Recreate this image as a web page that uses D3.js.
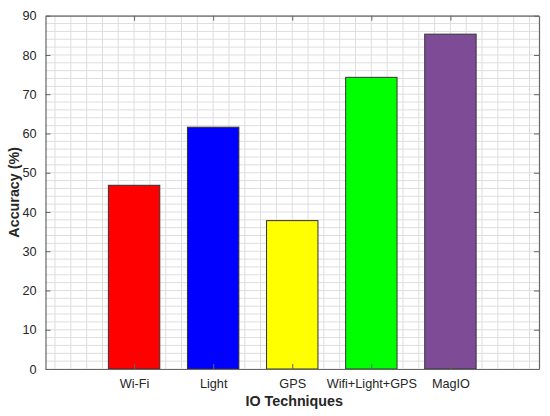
<!DOCTYPE html>
<html><head><meta charset="utf-8">
<script src="https://cdn.jsdelivr.net/npm/d3@7"></script>
<style>body{margin:0;background:#fff}text{font-family:"Liberation Sans",Arial,sans-serif}</style>
</head><body>
<svg id="c" width="550" height="416"></svg>
<script>
const categories = ["Wi-Fi","Light","GPS","Wifi+Light+GPS","MagIO"];
const accuracy = [46.8, 61.6, 37.8, 74.3, 85.3];
const barColors = ["#ff0000","#0000ff","#ffff00","#00ff00","#7e4c96"];
const yTicks = [0,10,20,30,40,50,60,70,80,90];

const L=45.5, R=539, T=15.7, B=369;
const svg = d3.select("#c");
const x = d3.scaleLinear().domain([-0.12, 6.12]).range([L, R]);
const y = d3.scaleLinear().domain([0, 90]).range([B, T]);
const g = svg.append("g");

// minor grid
const gx = d3.range(0, 31).map(i => i*0.2);
g.selectAll(".vg").data(gx).join("line")
  .attr("x1", d=>x(d)).attr("x2", d=>x(d)).attr("y1", T).attr("y2", B)
  .attr("stroke", "#dedede").attr("stroke-width", 1);
const gy = d3.range(0, 46).map(i => i*2);
g.selectAll(".hg").data(gy).join("line")
  .attr("y1", d=>y(d)).attr("y2", d=>y(d)).attr("x1", L).attr("x2", R)
  .attr("stroke", "#dedede").attr("stroke-width", 1);

// bars
const bw = 0.65;
g.selectAll(".bar").data(accuracy).join("rect")
  .attr("x", (d,i)=>x(i+1-bw/2)).attr("width", (d,i)=>x(i+1+bw/2)-x(i+1-bw/2))
  .attr("y", d=>y(d)).attr("height", d=>B-y(d))
  .attr("fill", (d,i)=>barColors[i]).attr("stroke", "#333").attr("stroke-width", 1);

// axes
const axCol = "#666";
const yAxis = d3.axisLeft(y).tickValues(yTicks).tickSizeInner(-5).tickSizeOuter(0).tickPadding(9);
const ya = svg.append("g").attr("transform", `translate(${L},0)`).call(yAxis);
const yr = svg.append("g").attr("transform", `translate(${R},0)`).call(d3.axisRight(y).tickValues(yTicks).tickSizeInner(-5).tickSizeOuter(0).tickFormat(""));
const xAxis = d3.axisBottom(x).tickValues([1,2,3,4,5]).tickFormat((d)=>categories[d-1]).tickSizeInner(-5).tickSizeOuter(0).tickPadding(10);
const xa = svg.append("g").attr("transform", `translate(0,${B})`).call(xAxis);
const xt = svg.append("g").attr("transform", `translate(0,${T})`).call(d3.axisTop(x).tickValues([1,2,3,4,5]).tickSizeInner(-5).tickSizeOuter(0).tickFormat(""));
[ya,yr,xa,xt].forEach(a=>{
  a.select(".domain").attr("stroke", axCol).attr("stroke-width", 1.2);
  a.selectAll(".tick line").attr("stroke", axCol);
  a.selectAll("text").attr("fill", "#262626").style("font-size", "12.7px").style("font-family", '"Liberation Sans",Arial,sans-serif');
});

svg.append("text").attr("x", (L+R)/2 + 2).attr("y", 406).attr("text-anchor","middle")
  .style("font-size","14.3px").style("font-weight","bold").attr("fill","#262626").text("IO Techniques");
svg.append("text").attr("transform", `translate(19,${(T+B)/2}) rotate(-90)`).attr("text-anchor","middle")
  .style("font-size","14.3px").style("font-weight","bold").attr("fill","#262626").text("Accuracy (%)");
</script>
</body></html>
